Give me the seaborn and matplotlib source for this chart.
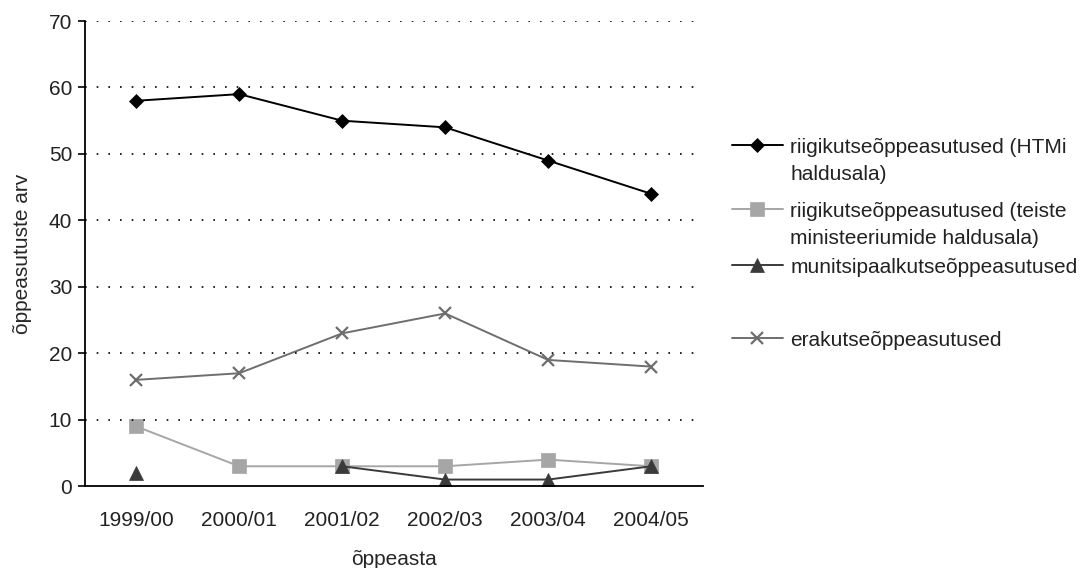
import numpy as np
import pandas as pd
import matplotlib
matplotlib.use("Agg")
import matplotlib.pyplot as plt
import seaborn as sns

# data
years = ["1999/00", "2000/01", "2001/02", "2002/03", "2003/04", "2004/05"]
riik_htm = [58, 59, 55, 54, 49, 44]
riik_teised = [9, 3, 3, 3, 4, 3]
munitsipaal = [2, np.nan, 3, 1, 1, 3]
era = [16, 17, 23, 26, 19, 18]

labels = [
    "riigikutseõppeasutused (HTMi\nhaldusala)",
    "riigikutseõppeasutused (teiste\nministeeriumide haldusala)",
    "munitsipaalkutseõppeasutused",
    "erakutseõppeasutused",
]
colors = ["#000000", "#a6a6a6", "#3a3a3a", "#6e6e6e"]
markers = ["D", "s", "^", "x"]
msizes = [7.5, 9.5, 9.5, 9]

sns.set_style("white")
plt.rcParams["font.family"] = ["Liberation Sans", "DejaVu Sans"]
plt.rcParams["font.size"] = 15
plt.rcParams["text.color"] = "#222222"
plt.rcParams["xtick.color"] = "#222222"
plt.rcParams["ytick.color"] = "#222222"

fig, ax = plt.subplots(figsize=(10.86, 5.68), dpi=100)
fig.subplots_adjust(left=0.078, right=0.647, top=0.963, bottom=0.144)

x = np.arange(len(years))
handles = []
for vals, lab, col, mk, ms in zip([riik_htm, riik_teised, munitsipaal, era],
                                  labels, colors, markers, msizes):
    df = pd.DataFrame({"x": x, "y": vals})
    # split into segments at missing values so the line breaks there
    df["seg"] = df["y"].isna().cumsum()
    df = df.dropna()
    mew = 1.6 if mk == "x" else 0.5
    sns.lineplot(data=df, x="x", y="y", units="seg", estimator=None,
                 color=col, marker=mk, markersize=ms, markeredgecolor=col,
                 markeredgewidth=mew, linewidth=1.4,
                 ax=ax, legend=False)
    handles.append(plt.Line2D([], [], color=col, marker=mk, markersize=ms,
                              markeredgecolor=col, linewidth=1.4,
                              markeredgewidth=mew, label=lab))

ax.set_xlim(-0.5, len(years) - 0.5)
ax.set_ylim(0, 70)
ax.set_yticks(range(0, 71, 10))
ax.set_xticks(x)
ax.set_xticklabels(years)
ax.tick_params(axis="x", which="major", length=0, pad=17.5)
ax.set_xticks(np.arange(-0.5, len(years)), minor=True)
ax.tick_params(axis="x", which="minor", length=6, width=1.2, direction="out", color="black")
ax.tick_params(axis="y", length=5, width=1.2, direction="out", color="black", left=True, pad=4)

for yv in range(10, 71, 10):
    ax.axhline(yv, color="black", linestyle=(0, (1, 6)), linewidth=1.2)

sns.despine(ax=ax)
for s in ["left", "bottom"]:
    ax.spines[s].set_color("black")
    ax.spines[s].set_linewidth(1.3)

ax.set_xlabel("õppeasta", labelpad=14.5)
ax.set_ylabel("õppeasutuste arv", labelpad=12)

# legend entries placed one by one, handle aligned with the first text line
tops = [138, 202, 258, 331]
for h, top in zip(handles, tops):
    leg = fig.legend(handles=[h], loc="upper left",
                     bbox_to_anchor=(0.674, 1 - top / 568),
                     frameon=False, handlelength=2.45, handletextpad=0.35,
                     borderpad=0, borderaxespad=0)
    for t in leg.get_texts():
        t.set_linespacing(1.55)
    for col in leg._legend_handle_box.get_children():
        for row in col.get_children():
            row.align = "top"

fig.savefig("out.png", dpi=100)
